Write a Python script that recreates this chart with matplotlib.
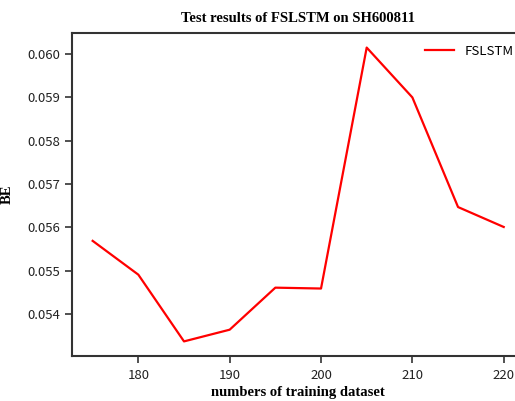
import matplotlib
matplotlib.use("Agg")
import matplotlib.pyplot as plt
from matplotlib.ticker import FuncFormatter

train_sizes = [175, 180, 185, 190, 195, 200, 205, 210, 215, 220]
be_values = [0.05569, 0.05491, 0.05337, 0.05364, 0.05461, 0.05459, 0.06015, 0.05900, 0.05647, 0.05601]
series_name = "FSLSTM"
title = "Test results of FSLSTM on SH600811"
xlabel = "numbers of training dataset"
ylabel = "BE"
xticks = [180, 190, 200, 210, 220]
yticks = [0.054, 0.055, 0.056, 0.057, 0.058, 0.059, 0.060]

tick_font = ["Noto Sans CJK SC", "DejaVu Sans"]
serif = "Liberation Serif"

fig = plt.figure(figsize=(5.15, 4.01), dpi=100)
ax = fig.add_axes([0.14, 0.112, 0.878, 0.806])
ax.plot(train_sizes, be_values, color="red", linewidth=1.6, label=series_name)
ax.set_xticks(xticks)
ax.set_yticks(yticks)
ax.yaxis.set_major_formatter(FuncFormatter(lambda v, p: f"{v:.3f}"))
for lab in ax.get_xticklabels() + ax.get_yticklabels():
    lab.set_family(tick_font)
    lab.set_fontsize(9.5)
for s in ax.spines.values():
    s.set_linewidth(1.5)
    s.set_color("#333333")
ax.tick_params(width=1.2, length=5, color="#333333", labelcolor="#222222")
ax.tick_params(axis="x", pad=4.5)
ax.set_title(title, fontfamily=serif, fontweight="bold", fontsize=10.5, pad=8)
ax.set_xlabel(xlabel, fontfamily=serif, fontweight="bold", fontsize=10.5, labelpad=3)
ax.set_ylabel(ylabel, fontfamily=serif, fontweight="bold", fontsize=10.5)
ax.yaxis.set_label_coords(-0.128, 0.5)
leg = fig.legend(loc="upper right", bbox_to_anchor=(1.02, 0.918), frameon=False,
                 prop={"family": tick_font, "size": 9.5}, handlelength=2.2)
fig.savefig("out.png", dpi=100)
